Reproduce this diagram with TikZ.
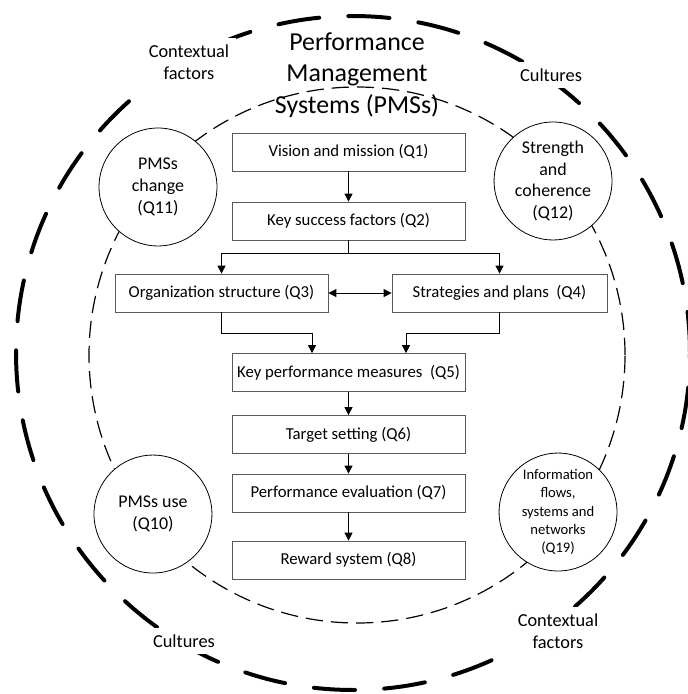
\documentclass[tikz,border=0pt]{standalone}
\usepackage{fontspec}
\setmainfont{Carlito}
\usetikzlibrary{positioning,arrows.meta,calc}
\definecolor{boxgray}{HTML}{595959}

\begin{document}
\begin{tikzpicture}[
    stagebox/.style={draw=boxgray, fill=white, line width=0.6pt, minimum width=6.165cm, minimum height=1.005cm, inner sep=0pt, font=\fontsize{12.6}{15}\selectfont},
    topic/.style={circle, draw=black, fill=white, line width=0.6pt, minimum size=3.12cm, inner sep=0pt, align=center, font=\fontsize{13.5}{16.5}\selectfont},
    ringlabel/.style={fill=white, align=center, inner sep=5pt, font=\fontsize{13.8}{16.8}\selectfont},
    arr/.style={-{Triangle[length=6pt,width=6pt]}, line width=0.6pt},
]
    \useasboundingbox (-9.339,-9.021) rectangle (8.862,9.339);

    % Outer ring (contexts and cultures)
    \draw[line width=3pt, line cap=round, dash pattern=on 31pt off 22pt] (0,0) circle (8.915);
    \node[ringlabel] (ctxTL) at (-4.339, 7.699) {Contextual\\factors};
    \node[ringlabel] (culTR) at (5.239, 7.355) {Cultures};
    \node[ringlabel] (culBL) at (-4.471, -7.620) {Cultures};
    \node[ringlabel] (ctxBR) at (5.424, -7.355) {Contextual\\factors};

    % Inner ring (PMSs)
    \draw[line width=0.9pt, dash pattern=on 13pt off 6pt] (0.106,-0.053) circle (7.09);
    \node[align=center, font=\fontsize{19.5}{23.5}\selectfont] (title) at (0.106, 7.355) {Performance\\Management\\Systems (PMSs)};

    % Topics on the inner ring
    \node[topic] (Q11) at (-5.159, 4.392) {PMSs\\change\\(Q11)};
    \node[topic] (Q12) at (5.292, 4.551) {Strength\\and\\coherence\\(Q12)};
    \node[topic] (Q10) at (-5.292, -4.260) {PMSs use\\(Q10)};
    \node[topic, font=\fontsize{11}{13.7}\selectfont] (Q19) at (5.424, -4.207) {Information\\flows,\\systems and\\networks\\(Q19)};

    % Stages
    \node[stagebox] (Q1) at (-0.119, 5.318) {Vision and mission (Q1)};
    \node[stagebox] (Q2) at (-0.119, 3.492) {Key success factors (Q2)};
    \node[stagebox, minimum width=5.636cm] (Q3) at (-3.479, 1.587) {Organization structure (Q3)};
    \node[stagebox, minimum width=5.689cm] (Q4) at (3.876, 1.587) {Strategies and plans~~(Q4)};
    \node[stagebox] (Q5) at (-0.119, -0.516) {Key performance measures~~(Q5)};
    \node[stagebox] (Q6) at (-0.119, -2.156) {Target setting (Q6)};
    \node[stagebox] (Q7) at (-0.119, -3.704) {Performance evaluation (Q7)};
    \node[stagebox] (Q8) at (-0.119, -5.477) {Reward system (Q8)};

    % Connectors
    \coordinate (split) at (-0.119, 2.646);
    \coordinate (mergeL) at (-1.085, 0.529);
    \coordinate (mergeR) at (1.402, 0.529);
    \draw[arr] (Q1) -- (Q2);
    \draw[line width=0.6pt] (Q2.south) -- (split);
    \draw[arr] (split) -| (Q3.north);
    \draw[arr] (split) -| (Q4.north);
    \draw[{Triangle[length=6pt,width=6pt]}-{Triangle[length=6pt,width=6pt]}, line width=0.6pt] (Q3) -- (Q4);
    \draw[arr] (Q3.south) |- (mergeL) -- (mergeL |- Q5.north);
    \draw[arr] (Q4.south) |- (mergeR) -- (mergeR |- Q5.north);
    \draw[arr] (Q5) -- (Q6);
    \draw[arr] (Q6) -- (Q7);
    \draw[arr] (Q7) -- (Q8);
\end{tikzpicture}
\end{document}
